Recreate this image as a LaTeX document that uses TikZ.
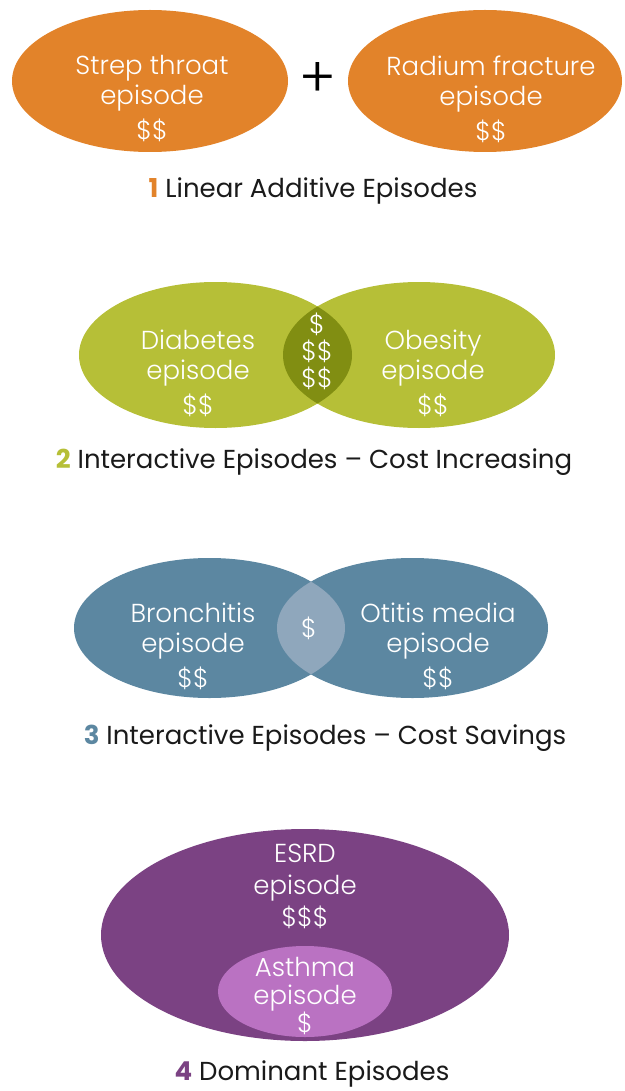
\documentclass[tikz,border=0pt]{standalone}
\usepackage{fontspec}
\setmainfont{Poppins}
\newfontfamily\eplight{Poppins Light}
\usetikzlibrary{positioning}

\definecolor{epOrange}{HTML}{E2832A}
\definecolor{epGreen}{HTML}{B6BF37}
\definecolor{epGreenDark}{HTML}{818E12}
\definecolor{epBlue}{HTML}{5C87A1}
\definecolor{epBlueLight}{HTML}{8FA7BC}
\definecolor{epPurple}{HTML}{7B4283}
\definecolor{epPurpleLight}{HTML}{BA72C2}
\definecolor{epInk}{HTML}{1A1A1A}

\tikzset{
  eptext/.style={text=white, align=center, inner sep=0pt, font=\eplight\fontsize{26}{30}\selectfont},
  captext/.style={text=epInk, inner sep=0pt, font=\fontsize{26}{28}\selectfont},
}

\begin{document}
\begin{tikzpicture}[x=1pt, y=-1pt]
  \useasboundingbox (0,0) rectangle (624,1091);

  % 1 linear additive
  \fill[epOrange] (150,81) ellipse [x radius=138, y radius=71];
  \fill[epOrange] (485,81) ellipse [x radius=137, y radius=71];
  \node[eptext] (strep) at (152,99) {Strep throat\\episode\\[5pt]\$\$};
  \node[eptext] (radius) at (491,99) {Radium fracture\\episode\\[5pt]\$\$};
  \node[text=black, inner sep=0pt, font=\eplight\fontsize{56}{56}\selectfont] (plus) at (318,80) {+};
  \node[captext] (cap1) at (313,191) {\textcolor{epOrange}{\textbf{1}} Linear Additive Episodes};

  % 2 interactive, cost increasing
  \fill[epGreen] (215.5,355) ellipse [x radius=136.5, y radius=73];
  \fill[epGreen] (419,355) ellipse [x radius=136, y radius=73];
  \begin{scope}
    \clip (215.5,355) ellipse [x radius=136.5, y radius=73];
    \fill[epGreenDark] (419,355) ellipse [x radius=136, y radius=73];
  \end{scope}
  \node[eptext] (diab) at (198,373) {Diabetes\\episode\\[5pt]\$\$};
  \node[eptext] (obes) at (433,373) {Obesity\\episode\\[5pt]\$\$};
  \node[eptext, font=\eplight\fontsize{26}{27}\selectfont] (more) at (317,351) {\$\\\$\$\\\$\$};
  \node[captext] (cap2) at (314,462) {\textcolor{epGreen}{\textbf{2}} Interactive Episodes -- Cost Increasing};

  % 3 interactive, cost savings
  \fill[epBlue] (209.5,628) ellipse [x radius=135.5, y radius=70];
  \fill[epBlue] (412.5,628) ellipse [x radius=135.5, y radius=70];
  \begin{scope}
    \clip (209.5,628) ellipse [x radius=135.5, y radius=70];
    \fill[epBlueLight] (412.5,628) ellipse [x radius=135.5, y radius=70];
  \end{scope}
  \node[eptext] (bronch) at (193,646) {Bronchitis\\episode\\[5pt]\$\$};
  \node[eptext] (otitis) at (438,646) {Otitis media\\episode\\[5pt]\$\$};
  \node[eptext] (less) at (309,628) {\$};
  \node[captext] (cap3) at (325,738) {\textcolor{epBlue}{\textbf{3}} Interactive Episodes -- Cost Savings};

  % 4 dominant
  \fill[epPurple] (305,935) ellipse [x radius=204, y radius=106];
  \fill[epPurpleLight] (305,991.5) ellipse [x radius=87, y radius=45.5];
  \node[eptext, font=\eplight\fontsize{26}{32}\selectfont] (esrd) at (305,886) {ESRD\\episode\\\$\$\$};
  \node[eptext, font=\eplight\fontsize{26}{28}\selectfont] (asthma) at (305,996) {Asthma\\episode\\\$};
  \node[captext] (cap4) at (312,1074) {\textcolor{epPurple}{\textbf{4}} Dominant Episodes};
\end{tikzpicture}
\end{document}
